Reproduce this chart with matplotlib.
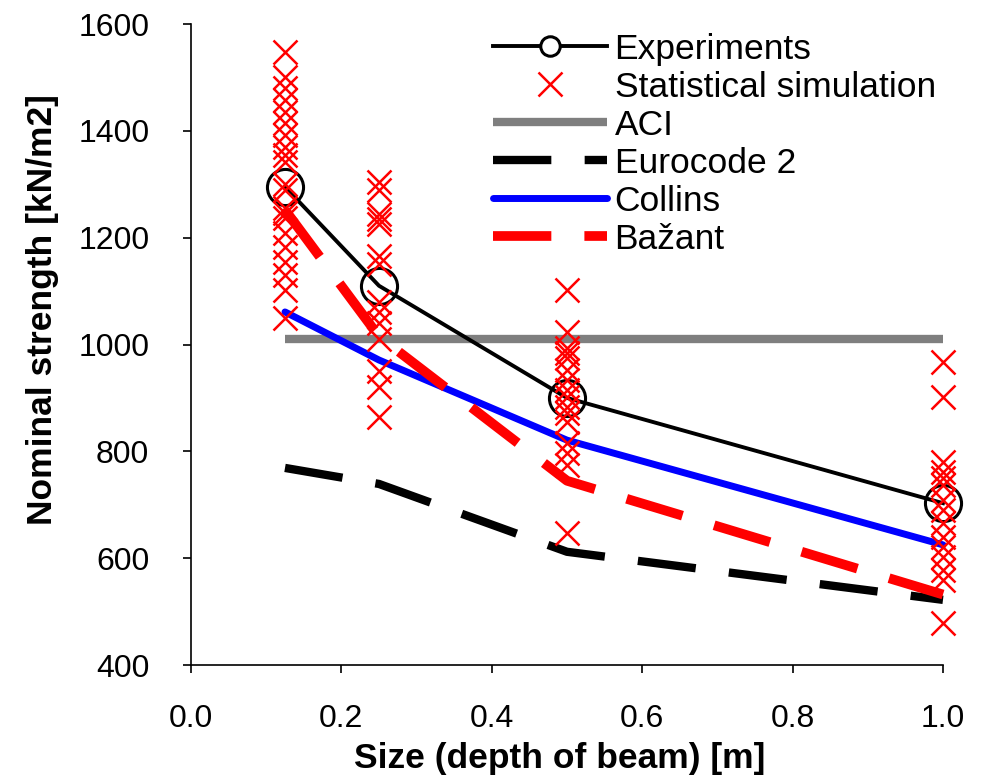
import numpy as np
import matplotlib.pyplot as plt

plt.rcParams['font.family'] = ['Liberation Sans', 'DejaVu Sans']

# beam depths [m]
sizes = [0.125, 0.25, 0.5, 1.0]

experiments = [1295, 1110, 900, 703]
aci = [1010, 1010, 1010, 1010]
eurocode2 = [769, 739, 612, 522]
collins = [1061, 971, 821, 625]
bazant = [1252, 1015, 745, 532]

# statistical simulation results per size
sim_0125 = [1547, 1500, 1480, 1457, 1435, 1414, 1392, 1370, 1355, 1341, 1300,
            1290, 1255, 1246, 1236, 1208, 1182, 1154, 1130, 1102, 1050]
sim_025 = [1305, 1290, 1245, 1235, 1225, 1165, 1150, 1080, 1060, 1040, 1010,
           950, 920, 865]
sim_05 = [1102, 1023, 993, 984, 975, 952, 933, 915, 902, 883, 872, 855, 815,
          797, 774, 647]
sim_1 = [967, 902, 780, 761, 750, 737, 709, 690, 666, 640, 621, 602, 578,
         559, 479]

sim_x = []
sim_y = []
for s, vals in zip(sizes, [sim_0125, sim_025, sim_05, sim_1]):
    sim_x += [s] * len(vals)
    sim_y += vals

fig = plt.figure(figsize=(9.83, 7.8), dpi=100)
ax = fig.add_axes([0.1943, 0.1474, 0.765, 0.8218])

h_exp, = ax.plot(sizes, experiments, color='black', lw=2.8, marker='o',
                 ms=26, mfc='none', mec='black', mew=2.2, zorder=5,
                 clip_on=False, label='Experiments')
h_sim, = ax.plot(sim_x, sim_y, ls='none', marker='x', ms=17, mew=1.8,
                 color='red', zorder=6, clip_on=False,
                 label='Statistical simulation')
h_aci, = ax.plot(sizes, aci, color='#7f7f7f', lw=6, solid_capstyle='butt',
                 zorder=2, label='ACI')
h_ec, = ax.plot(sizes, eurocode2, color='black', lw=6, dashes=(7, 4),
                zorder=3, clip_on=False, label='Eurocode 2')
h_col, = ax.plot(sizes, collins, color='blue', lw=5, zorder=3,
                 solid_capstyle='round', clip_on=False, label='Collins')
h_baz, = ax.plot(sizes, bazant, color='red', lw=7, dashes=(6, 3.4),
                 zorder=4, clip_on=False, label='Bažant')

ax.set_xlim(0, 1.0)
ax.set_ylim(400, 1600)
ax.set_xticks(np.arange(0, 1.01, 0.2))
ax.set_xticklabels(['0.0', '0.2', '0.4', '0.6', '0.8', '1.0'])
ax.set_yticks(np.arange(400, 1601, 200))
ax.tick_params(labelsize=23, width=1.2, length=6, direction='out')
ax.tick_params(axis='y', pad=24)
ax.tick_params(axis='x', pad=22)
ax.spines['top'].set_visible(False)
ax.spines['right'].set_visible(False)
ax.spines['left'].set_linewidth(1.2)
ax.spines['bottom'].set_linewidth(1.2)

ax.set_xlabel('Size (depth of beam) [m]', fontsize=25.5, fontweight='bold')
ax.set_ylabel('Nominal strength [kN/m2]', fontsize=25.5, fontweight='bold')
ax.xaxis.set_label_coords(0.49, -0.12)
ax.yaxis.set_label_coords(-0.176, 0.554)

leg = ax.legend(handles=[h_exp, h_sim, h_aci, h_ec, h_col, h_baz],
                loc='upper left', bbox_to_anchor=(0.502, 0.958),
                bbox_transform=fig.transFigure, frameon=False, fontsize=25.5,
                handlelength=3.2, handletextpad=0.22, labelspacing=0.14,
                numpoints=1, borderaxespad=0, borderpad=0)
for line in leg.get_lines():
    if line.get_marker() == 'o':
        line.set_markersize(14)
        line.set_markerfacecolor('white')

fig.savefig('out.png', dpi=100)
